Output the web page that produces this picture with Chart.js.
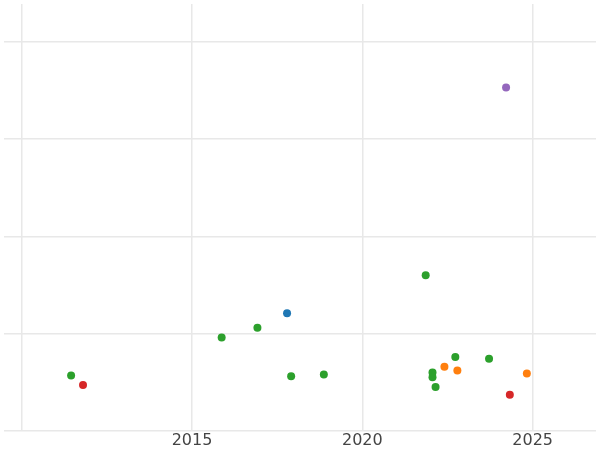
<!DOCTYPE html>
<html>
<head>
<script src="https://cdn.jsdelivr.net/npm/chart.js@4"></script>
<style>body{margin:0}#wrap{width:600px;height:450px}</style>
</head>
<body>
<div id="wrap"><canvas id="c"></canvas></div>
<script>
// values; y is on an unlabelled scale
var greenX = [2011.45, 2015.87, 2016.92, 2017.91, 2018.87, 2021.86, 2022.06, 2022.06, 2022.15, 2022.73, 2023.72];
var greenY = [0.57, 0.96, 1.06, 0.56, 0.58, 1.60, 0.60, 0.55, 0.45, 0.76, 0.74];
var redX = [2011.80, 2024.33];
var redY = [0.47, 0.37];
var orangeX = [2022.41, 2022.79, 2024.83];
var orangeY = [0.66, 0.62, 0.59];
var blueX = [2017.79];
var blueY = [1.21];
var purpleX = [2024.22];
var purpleY = [3.53];
var xTicks = [2010, 2015, 2020, 2025];

function pts(xs, ys){
	var out = [];
	for (var i = 0; i < xs.length; i++) out.push({x: xs[i], y: ys[i]});
	return out;
}
function ds(xs, ys, col){
	return {data: pts(xs, ys), backgroundColor: col, borderColor: col, borderWidth: 0, pointRadius: 4, pointHoverRadius: 4};
}

new Chart(document.getElementById('c'), {
	type: 'scatter',
	data: {
		datasets: [
			ds(greenX, greenY, '#2ca02c'),
			ds(redX, redY, '#d62728'),
			ds(orangeX, orangeY, '#ff7f0e'),
			ds(blueX, blueY, '#1f77b4'),
			ds(purpleX, purpleY, '#9467bd')
		]
	},
	options: {
		responsive: true,
		maintainAspectRatio: false,
		animation: false,
		layout: {padding: {left: -7, right: -6, top: -5, bottom: 0}},
		plugins: {legend: {display: false}, tooltip: {enabled: false}},
		scales: {
			x: {
				min: 2009.48, max: 2026.86,
				afterBuildTicks: function(ax){ ax.ticks = xTicks.map(function(v){ return {value: v}; }); },
				ticks: {
					color: '#444', font: {family: 'DejaVu Sans', size: 16}, padding: 0,
					callback: function(v){ return v === 2010 ? '' : String(v); }
				},
				grid: {color: '#e8e8e8', lineWidth: 1.5, drawTicks: false},
				border: {display: false}
			},
			y: {
				min: 0, max: 4.39,
				afterBuildTicks: function(ax){ ax.ticks = [0,1,2,3,4].map(function(v){ return {value: v}; }); },
				ticks: {display: false},
				grid: {color: '#e8e8e8', lineWidth: 1.5, drawTicks: false},
				border: {display: false}
			}
		}
	}
});
</script>
</body>
</html>
